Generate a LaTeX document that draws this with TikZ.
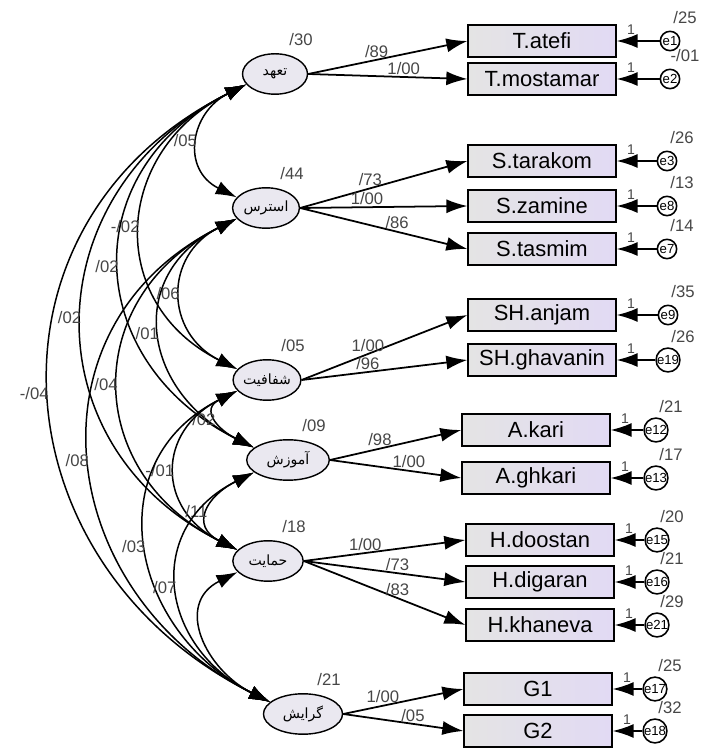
\documentclass[tikz,border=0pt]{standalone}
\usepackage{fontspec}
\setmainfont{Liberation Sans}
\newfontfamily\farsi[Script=Arabic]{DejaVu Sans}
\TeXXeTstate=1
\usetikzlibrary{arrows.meta,shapes.geometric}
\definecolor{boxlav}{RGB}{226,218,244}
\definecolor{boxgray}{RGB}{228,228,228}
\definecolor{ellfill}{RGB}{234,232,240}
\definecolor{txtgray}{RGB}{70,70,70}
\tikzset{
  latent/.style={draw, line width=0.8pt, ellipse, fill=ellfill, inner sep=0pt, minimum height=23pt, font=\farsi\fontsize{8}{9}\selectfont},
  obs/.style={draw, line width=0.9pt, left color=boxgray, right color=boxlav, minimum width=84pt, minimum height=18pt, inner sep=0pt, font=\fontsize{12.5}{14}\selectfont},
  err/.style={draw, line width=0.9pt, circle, fill=white, minimum size=11pt, inner sep=0pt, font=\fontsize{7.5}{7.5}\selectfont},
  num/.style={text=txtgray, inner sep=1pt, font=\fontsize{9.5}{10}\selectfont},
  one/.style={text=txtgray, inner sep=0pt, font=\fontsize{8}{8}\selectfont},
  load/.style={line width=1pt, -{Latex[length=12pt,width=8pt]}},
  cov/.style={line width=0.85pt, {Latex[length=12pt,width=8pt]}-{Latex[length=12pt,width=8pt]}},
}
\begin{document}
\begin{tikzpicture}[x=0.02cm, y=0.02cm]
  \useasboundingbox (0,0) rectangle (705,751);
  \foreach \n/\x/\y/\w/\t/\v in {taahod/275/677/37/تعهد/30, stres/266/543/38/استرس/44,
      shafaf/267/371/37/شفافیت/05, amooz/288/291/47/آموزش/09,
      hemayat/268/190/40/حمایت/18, gerayesh/303/37/45/گرایش/21} {
    \node[latent, minimum width=\w pt] (\n) at (\x,\y) {\beginR\t\endR};
    \node[num] at (\x+26,\y+34) {/\v};
  }
  \foreach \n/\x/\y/\t/\ex/\e/\v in {tatefi/542/710/T.atefi/670/1/{/25}, tmost/542/672/T.mostamar/670/2/{-/01},
      starakom/542/590/S.tarakom/667/3/{/26}, szamine/542/545/S.zamine/667/8/{/13}, stasmim/542/502/S.tasmim/667/7/{/14},
      shanjam/542/436/SH.anjam/668/9/{/35}, shghav/542/391/SH.ghavanin/668/19/{/26},
      akari/536/321/A.kari/656/12/{/21}, aghkari/536/273/A.ghkari/656/13/{/17},
      hdoost/540/211/H.doostan/657/15/{/20}, hdigar/540/169/H.digaran/657/16/{/21}, hkhan/540/126/H.khaneva/657/21/{/29},
      gone/538/62/G1/655/17/{/25}, gtwo/538/20/G2/655/18/{/32}} {
    \node[obs] (\n) at (\x,\y) {\t};
    \node[err] (e\n) at (\ex,\y) {e\e};
    \draw[load] (e\n) -- (\n);
    \node[one] at (\x+89,\y+11) {1};
    \node[num] at (\ex+15,\y+23) {\v};
  }
  \foreach \a/\b/\v/\p in {taahod/tatefi/{/89}/.43, taahod/tmost/{1/00}/.6,
      stres/starakom/{/73}/.42, stres/szamine/{1/00}/.4, stres/stasmim/{/86}/.58,
      shafaf/shanjam/{1/00}/.4, shafaf/shghav/{/96}/.4,
      amooz/akari/{/98}/.38, amooz/aghkari/{1/00}/.6,
      hemayat/hdoost/{1/00}/.38, hemayat/hdigar/{/73}/.58, hemayat/hkhan/{/83}/.58,
      gerayesh/gone/{1/00}/.33, gerayesh/gtwo/{/05}/.58}
    \draw[load] (\a.east) -- (\b.west) node[num, pos=\p, above] {\v};
  \foreach \a/\b/\h/\v in {taahod/stres/56/{/05}, taahod/shafaf/133/{-/02}, taahod/amooz/172/{/02},
      taahod/hemayat/211/{/02}, taahod/gerayesh/276/{-/04},
      stres/shafaf/73/{/06}, stres/amooz/112/{/01}, stres/hemayat/156/{/04}, stres/gerayesh/216/{/08},
      shafaf/amooz/37/{/02}, shafaf/hemayat/81/{-/01}, shafaf/gerayesh/141/{/03},
      amooz/hemayat/48/{/11}, amooz/gerayesh/111/{/07}, hemayat/gerayesh/64/{}}
    \draw[cov] (\a.200) .. controls +(-\h,-\h/2) and +(-\h,\h/2) .. (\b.160) node[num, pos=.5, anchor=east] {\v};
\end{tikzpicture}
\end{document}
